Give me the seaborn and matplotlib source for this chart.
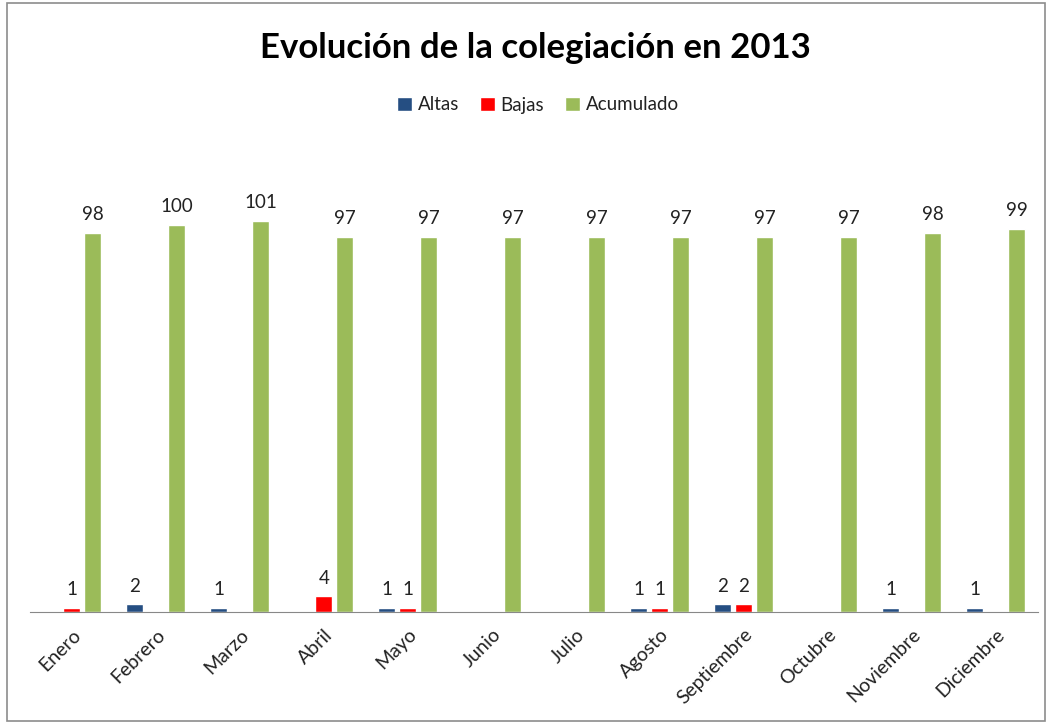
import matplotlib
matplotlib.use("Agg")
import matplotlib.pyplot as plt
import seaborn as sns
import pandas as pd

meses = ["Enero", "Febrero", "Marzo", "Abril", "Mayo", "Junio", "Julio",
         "Agosto", "Septiembre", "Octubre", "Noviembre", "Diciembre"]
altas = [0, 2, 1, 0, 1, 0, 0, 1, 2, 0, 1, 1]
bajas = [1, 0, 0, 4, 1, 0, 0, 1, 2, 0, 0, 0]
acumulado = [98, 100, 101, 97, 97, 97, 97, 97, 97, 97, 98, 99]

series = ["Altas", "Bajas", "Acumulado"]
colores = ["#254E82", "#FF0000", "#9BBB59"]

df = pd.DataFrame({
    "Mes": meses * 3,
    "Serie": ["Altas"] * 12 + ["Bajas"] * 12 + ["Acumulado"] * 12,
    "Valor": altas + bajas + acumulado,
})

sns.set_style("white")
plt.rcParams["font.family"] = ["Lato", "DejaVu Sans"]

fig = plt.figure(figsize=(10.52, 7.22), dpi=100)
ax = fig.add_axes([0.0285, 0.1524, 0.958, 0.579])

sns.barplot(data=df, x="Mes", y="Valor", hue="Serie", order=meses,
            hue_order=series, palette=colores, width=0.75, gap=0.19,
            saturation=1, ax=ax, legend=True)

for cont in ax.containers:
    vals = [b.get_height() for b in cont]
    ax.bar_label(cont, labels=[f"{v:.0f}" if v > 0 else "" for v in vals],
                 padding=7, fontsize=13.5, color="#222222")

ax.set_ylim(0, 108)
ax.set_xlim(-0.5, 11.5)
ax.set_yticks([])
ax.set_xlabel("")
ax.set_ylabel("")
for s in ["left", "right", "top"]:
    ax.spines[s].set_visible(False)
ax.spines["bottom"].set_color("#888888")
ax.tick_params(axis="x", length=0, labelsize=14, pad=10, colors="#222222")
for lbl in ax.get_xticklabels():
    lbl.set_rotation(45)
    lbl.set_ha("right")
    lbl.set_rotation_mode("anchor")

leg = ax.legend(loc="center", ncol=3, frameon=False,
                fontsize=13.5, handlelength=0.8, handleheight=0.8,
                handletextpad=0.3, columnspacing=1.1)
leg.set_bbox_to_anchor((538 / 1052, 1 - 105 / 722), transform=fig.transFigure)
for t in leg.get_texts():
    t.set_color("#222222")

fig.text(535 / 1052, 1 - 48 / 722, "Evolución de la colegiación en 2013",
         ha="center", va="center", fontsize=25, fontweight="bold",
         color="black")

border = plt.Rectangle((7 / 1052, 0.002), 1038 / 1052, 0.994,
                       transform=fig.transFigure, fill=False,
                       edgecolor="#8C8C8C", linewidth=1.2)
fig.patches.append(border)

fig.savefig("out.png", dpi=100)
